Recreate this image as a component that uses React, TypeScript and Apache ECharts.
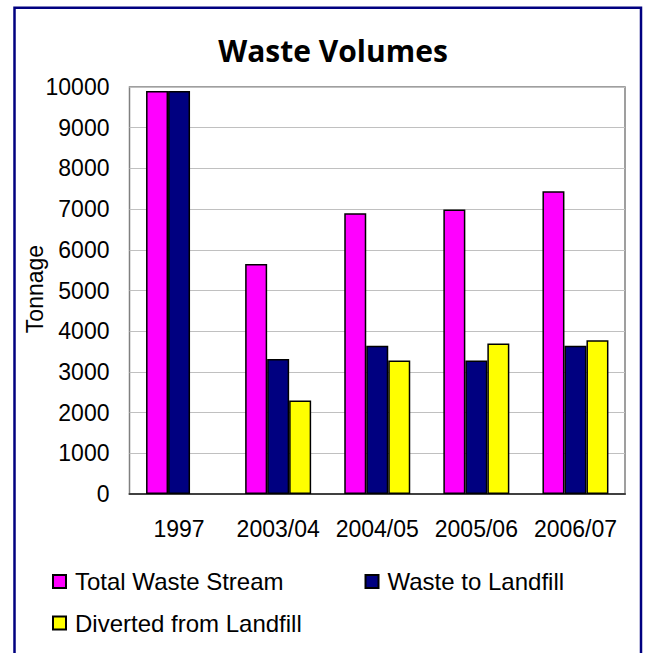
import React, { useEffect, useRef } from "react";
import * as echarts from "echarts";

const categories = ["1997", "2003/04", "2004/05", "2005/06", "2006/07"];
const totalWasteStream = [9900, 5650, 6900, 6990, 7440];
const wasteToLandfill = [9900, 3320, 3640, 3280, 3640];
const divertedFromLandfill = [null, 2300, 3280, 3700, 3780];
const seriesNames = ["Total Waste Stream", "Waste to Landfill", "Diverted from Landfill"];

const FONT = '"Liberation Sans", Arial, sans-serif';

export default function App() {
  const ref = useRef<HTMLDivElement>(null);

  useEffect(() => {
    if (!ref.current) return;
    const chart = echarts.init(ref.current, undefined, { renderer: "svg" });

    const barStyle = (color: string) => ({
      color,
      borderColor: "#000000",
      borderWidth: 1.5,
    });

    const legendText = {
      fontFamily: FONT,
      fontSize: 24,
      color: "#000000",
      padding: [0, 0, 0, 4],
    };

    chart.setOption({
      animation: false,
      backgroundColor: "#ffffff",
      graphic: [
        {
          type: "rect",
          shape: { x: 14.5, y: 7.7, width: 626.5, height: 700 },
          style: { fill: "none", stroke: "#000080", lineWidth: 2.5 },
          silent: true,
        },
        {
          type: "text",
          x: 333,
          y: 50,
          style: {
            text: "Waste Volumes",
            font: 'bold 30px "Open Sans", Lato, sans-serif',
            fill: "#000000",
            textAlign: "center",
            textVerticalAlign: "middle",
          },
        },
        {
          // y-axis title, rotated to read bottom-to-top
          type: "text",
          x: 35,
          y: 289,
          rotation: Math.PI / 2,
          style: {
            text: "Tonnage",
            font: `23px ${FONT}`,
            fill: "#000000",
            textAlign: "center",
            textVerticalAlign: "middle",
          },
        },
      ],
      legend: [
        {
          data: [seriesNames[0], seriesNames[1]],
          left: 52,
          top: 569.5,
          padding: 0,
          orient: "horizontal",
          itemWidth: 13,
          itemHeight: 13,
          itemGap: 81,
          icon: "rect",
          textStyle: legendText,
          selectedMode: false,
        },
        {
          data: [seriesNames[2]],
          left: 52,
          top: 611,
          padding: 0,
          orient: "horizontal",
          itemWidth: 13,
          itemHeight: 13,
          icon: "rect",
          textStyle: legendText,
          selectedMode: false,
        },
      ],
      grid: {
        left: 129.5,
        right: 21,
        top: 87,
        bottom: 159,
        show: true,
        borderColor: "#808080",
        borderWidth: 1.5,
        backgroundColor: "#ffffff",
      },
      xAxis: {
        type: "category",
        data: categories,
        axisLine: { show: true, lineStyle: { color: "#404040", width: 2 } },
        axisTick: { show: false },
        axisLabel: {
          fontFamily: FONT,
          fontSize: 23,
          color: "#000000",
          margin: 23,
          interval: 0,
        },
      },
      yAxis: {
        type: "value",
        min: 0,
        max: 10000,
        interval: 1000,
        axisLine: { show: false },
        axisTick: { show: false },
        axisLabel: {
          fontFamily: FONT,
          fontSize: 23,
          color: "#000000",
          margin: 20,
          formatter: (v: number) => String(v),
        },
        splitLine: { show: true, lineStyle: { color: "#c0c0c0", width: 1 } },
      },
      series: [
        {
          name: seriesNames[0],
          type: "bar",
          data: totalWasteStream,
          barWidth: 22,
          barGap: "0%",
          itemStyle: barStyle("#ff00ff"),
        },
        {
          name: seriesNames[1],
          type: "bar",
          data: wasteToLandfill,
          barWidth: 22,
          barGap: "0%",
          itemStyle: barStyle("#000080"),
        },
        {
          name: seriesNames[2],
          type: "bar",
          data: divertedFromLandfill,
          barWidth: 22,
          barGap: "0%",
          itemStyle: barStyle("#ffff00"),
        },
      ],
    });

    return () => chart.dispose();
  }, []);

  return (
    <div
      ref={ref}
      style={{ position: "fixed", left: 0, top: 0, width: 646, height: 653 }}
    />
  );
}
